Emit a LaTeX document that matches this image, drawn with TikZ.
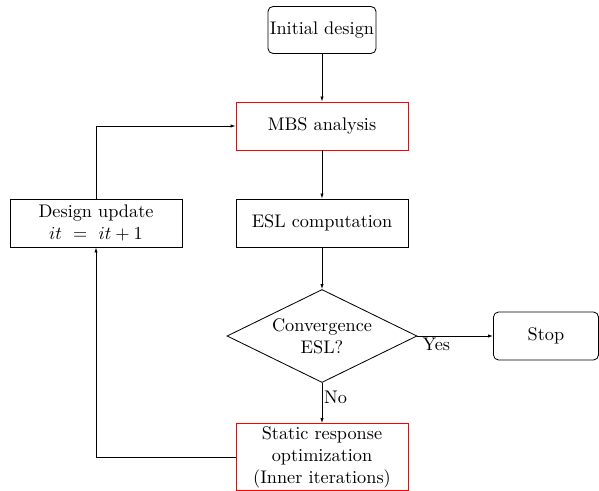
\documentclass[tikz,border=0pt]{standalone}
\usetikzlibrary{shapes.geometric,arrows.meta}
\begin{document}
\begin{tikzpicture}[x=0.6pt,y=-0.6pt,
  every node/.style={font=\fontsize{10.95}{13.2}\selectfont, align=center},
  boxr/.style={draw=red, minimum width=103.2pt, minimum height=28.8pt, inner sep=2pt},
  boxb/.style={draw=black, minimum width=103.2pt, minimum height=28.8pt, inner sep=2pt},
  rbox/.style={draw=black, rounded corners=3pt, minimum height=28.2pt, inner sep=2pt},
  dec/.style={draw=black, diamond, aspect=2, inner sep=0pt, minimum width=114pt, minimum height=55.8pt},
  arr/.style={-{Latex[length=3pt,width=2pt]}},
  lab/.style={inner sep=1pt},
  line width=0.5pt
]
\useasboundingbox (0,0) rectangle (599,491);
\node[rbox, minimum width=64.8pt, inner xsep=1pt] (init) at (322,30) {Initial design};
\node[boxr] (mbs) at (322,126) {MBS analysis};
\node[boxb] (esl) at (322,223) {ESL computation};
\node[dec] (conv) at (322,336) {Convergence\\ESL?};
\node[rbox, minimum width=63pt, minimum height=28.8pt] (stop) at (546,336) {Stop};
\node[boxb] (upd) at (96,223) {Design update\\$it\ =\ it+1$};
\node[boxr, minimum height=40.2pt, inner sep=1pt] (stat) at (322,457) {Static response\\optimization\\(Inner iterations)};
\draw[arr] (init) -- (mbs);
\draw[arr] (mbs) -- (esl);
\draw[arr] (esl) -- (conv);
\draw[arr] (conv.east) -- node[lab, pos=0.25, below] {Yes} (stop.west);
\draw[arr] (conv.south) -- node[lab, pos=0.35, right] {No} (stat.north);
\draw[arr] (stat.west) -| (upd.south);
\draw[arr] (upd.north) |- (mbs.west);
\end{tikzpicture}
\end{document}
